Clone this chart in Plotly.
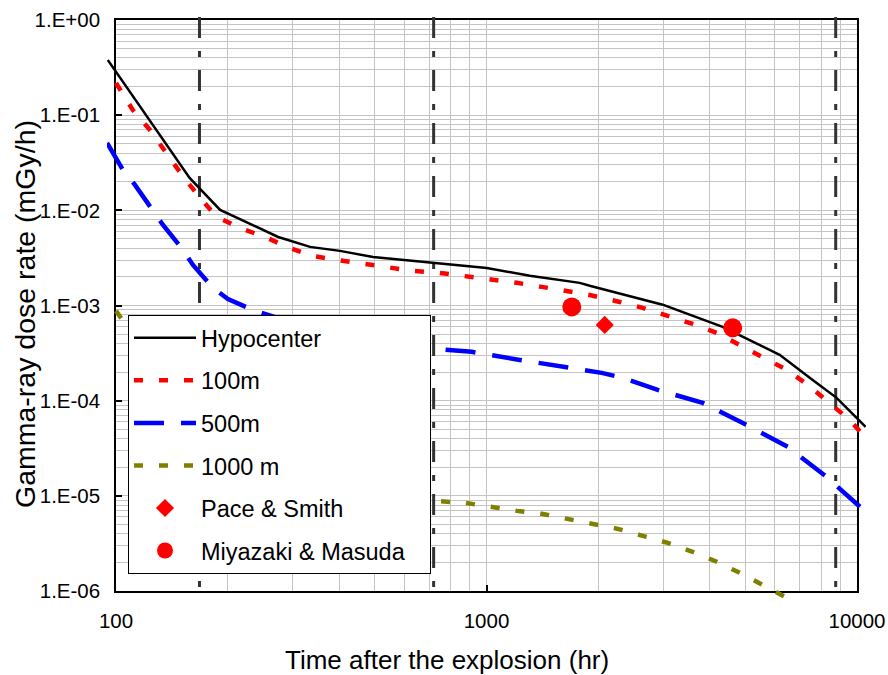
import plotly.graph_objects as go

# ---------------- data ----------------
hypo_t = [95, 158, 191, 274, 334, 402, 494, 716, 1002, 1309, 1785, 1899, 2989, 4338, 6183, 7591, 8810, 10550]
hypo_d = [0.380, 0.0219, 0.0101, 0.00525, 0.00413, 0.00375, 0.00324, 0.00280, 0.00248, 0.00205, 0.00173,
          0.00161, 0.00102, 0.000596, 0.000303, 0.000165, 0.000107, 5.31e-5]

m100_t = [100, 111, 123.5, 137, 152, 168, 187, 216, 256, 289, 338, 395, 464, 542, 633, 748, 874, 1033, 1207,
          1410, 1647, 1899, 2289, 2640, 3084, 3602, 4182, 4825, 5564, 6459, 7358, 8330, 9550, 10550]
m100_d = [0.218, 0.1134, 0.0699, 0.0401, 0.0224, 0.0138, 0.00853, 0.00653, 0.00513, 0.00413, 0.00332, 0.00301,
          0.00274, 0.00248, 0.00231, 0.00220, 0.00205, 0.00190, 0.00173, 0.00157, 0.00142, 0.00129, 0.00109,
          0.000944, 0.000777, 0.000641, 0.000516, 0.000386, 0.000288, 0.000211, 0.000147, 9.71e-5, 6.28e-5, 4.07e-5]

m500_t = [94.6, 104.4, 112.5, 125.9, 133.9, 151.6, 161.3, 182.7, 200.5, 237.1, 313, 427, 584, 716, 913, 1230,
          1647, 2046, 2332, 2898, 3833, 5037, 6500, 8279, 8865, 10550]
m500_d = [0.0510, 0.0266, 0.0185, 0.0101, 0.00702, 0.00384, 0.00267, 0.00153, 0.00117, 0.000878, 0.000625,
          0.000480, 0.000405, 0.000350, 0.000326, 0.000268, 0.000221, 0.000196, 0.000174, 0.000130, 9.48e-5,
          5.57e-5, 3.27e-5, 1.58e-5, 1.24e-5, 6.79e-6]

m1000_t = [100, 123.5, 151.6, 182.7, 237.1, 402, 716, 874, 1021, 1207, 1410, 1657, 1935, 2261, 2640, 3084,
           3602, 4182, 4825, 5564, 6459, 7000]
m1000_d = [8.78e-4, 2.75e-4, 9.48e-5, 3.78e-5, 2.17e-5, 1.40e-5, 8.86e-6, 8.44e-6, 7.66e-6, 6.96e-6, 6.47e-6,
           5.73e-6, 5.20e-6, 4.50e-6, 3.80e-6, 3.21e-6, 2.58e-6, 2.03e-6, 1.553e-6, 1.162e-6, 8.48e-7, 7.0e-7]

pace_t = [2085]
pace_d = [6.25e-4]
miya_t = [1699, 4618]
miya_d = [9.67e-4, 5.82e-4]

ref_lines_t = [168, 720, 8760]   # 1 week, 1 month, 1 year

x_ticks = [100, 1000, 10000]
x_ticktext = ["100", "1000", "10000"]
y_ticks = [1e-6, 1e-5, 1e-4, 1e-3, 1e-2, 1e-1, 1]
y_ticktext = ["1.E-06", "1.E-05", "1.E-04", "1.E-03", "1.E-02", "1.E-01", "1.E+00"]

# ---------------- layout geometry ----------------
W, H = 888, 675
ML, MR, MT, MB = 107, 22, 11, 75     # margins of the (slightly larger) data subplot
EXT = 9                              # px the data may spill beyond the frame
PW = W - ML - MR                     # 759
PH = H - MT - MB                     # 589
gx0, gx1 = EXT / PW, 1 - EXT / PW
gy0, gy1 = EXT / PH, 1 - EXT / PH
xdec = (PW - 2 * EXT) / 2.0
ydec = (PH - 2 * EXT) / 6.0
xr = [2 - EXT / xdec, 4 + EXT / xdec]
yr = [-6 - EXT / ydec, 0 + EXT / ydec]

FONT = "Liberation Sans, Arial, sans-serif"
GRID = "#c4c4c4"

fig = go.Figure()

# dummy trace on grid subplot
fig.add_trace(go.Scatter(x=[100], y=[1e-3], mode="markers", marker=dict(opacity=0),
                         showlegend=False, hoverinfo="skip", xaxis="x", yaxis="y"))

# reference dash-dot lines
ytop = 10 ** (3 / ydec)
for t in ref_lines_t:
    fig.add_trace(go.Scatter(x=[t, t], y=[ytop, 1e-7], mode="lines",
                             line=dict(color="#333333", width=3, dash="21px,13px,6px,13px"),
                             showlegend=False, hoverinfo="skip", xaxis="x2", yaxis="y2"))

fig.add_trace(go.Scatter(x=hypo_t, y=hypo_d, mode="lines", name="Hypocenter",
                         line=dict(color="black", width=2.5), legendgroup="a",
                         xaxis="x2", yaxis="y2"))
fig.add_trace(go.Scatter(x=m100_t, y=m100_d, mode="lines", name="100m",
                         line=dict(color="#ff0000", width=4.5, dash="9px,16px"), legendgroup="b",
                         xaxis="x2", yaxis="y2"))
fig.add_trace(go.Scatter(x=m500_t, y=m500_d, mode="lines", name="500m",
                         line=dict(color="#0000ff", width=4.5, dash="30px,17px"), legendgroup="c",
                         xaxis="x2", yaxis="y2"))
fig.add_trace(go.Scatter(x=m1000_t, y=m1000_d, mode="lines", name="1000 m",
                         line=dict(color="#808000", width=4.5, dash="9px,16px"), legendgroup="d",
                         xaxis="x2", yaxis="y2"))
fig.add_trace(go.Scatter(x=pace_t, y=pace_d, mode="markers", name="Pace & Smith",
                         marker=dict(symbol="diamond", size=14, color="#ff0000"), legendgroup="e",
                         xaxis="x2", yaxis="y2"))
fig.add_trace(go.Scatter(x=miya_t, y=miya_d, mode="markers", name="Miyazaki & Masuda\u00a0\u00a0\u00a0",
                         marker=dict(symbol="circle", size=19, color="#ff0000"), legendgroup="f",
                         xaxis="x2", yaxis="y2"))

axis_common = dict(type="log", showline=True, linecolor="black", linewidth=1.5, mirror=True,
                   ticks="inside", ticklen=6, tickwidth=1.5, tickcolor="black", automargin=False,
                   showgrid=True, gridcolor=GRID, gridwidth=1, zeroline=False,
                   tickfont=dict(family=FONT, size=20.5, color="black"),
                   minor=dict(dtick="D1", showgrid=True, gridcolor=GRID, gridwidth=1, ticks=""))

fig.update_layout(
    width=W, height=H,
    margin=dict(l=ML, r=MR, t=MT, b=MB, pad=0, autoexpand=False),
    paper_bgcolor="white", plot_bgcolor="rgba(0,0,0,0)",
    font=dict(family=FONT, color="black"),
    xaxis=dict(axis_common, domain=[gx0, gx1], anchor="y", range=[2, 4],
               tickmode="array", tickvals=x_ticks, ticktext=x_ticktext, ticklabelstandoff=11),
    yaxis=dict(axis_common, domain=[gy0, gy1], anchor="x", range=[-6, 0],
               tickmode="array", tickvals=y_ticks, ticktext=y_ticktext, ticklabelstandoff=10),
    xaxis2=dict(type="log", domain=[0, 1], anchor="y2", range=xr, visible=False, showgrid=False,
                automargin=False),
    yaxis2=dict(type="log", domain=[0, 1], anchor="x2", range=yr, visible=False, showgrid=False,
                automargin=False),
    showlegend=True,
    legend=dict(x=(128 - ML) / PW, y=(MT + PH - 315) / PH, xanchor="left", yanchor="top",
                bgcolor="white", bordercolor="black", borderwidth=1,
                font=dict(family=FONT, size=23.5, color="black"),
                traceorder="grouped", tracegroupgap=9, itemwidth=62),
    annotations=[
        dict(text="Time after the explosion (hr)", xref="paper", yref="paper",
             x=(447 - ML) / PW, y=(MT + PH - 660) / PH, xanchor="center", yanchor="middle",
             showarrow=False, font=dict(family=FONT, size=26, color="black")),
        dict(text="Gamma-ray dose rate (mGy/h)", xref="paper", yref="paper", textangle=-90,
             x=(25 - ML) / PW, y=(MT + PH - 314) / PH, xanchor="center", yanchor="middle",
             showarrow=False, font=dict(family=FONT, size=28.5, color="black")),
    ],
)

fig.write_html("out.html", config={"displayModeBar": False},
               post_script="document.body.style.margin='0px';document.body.style.overflow='hidden';")
